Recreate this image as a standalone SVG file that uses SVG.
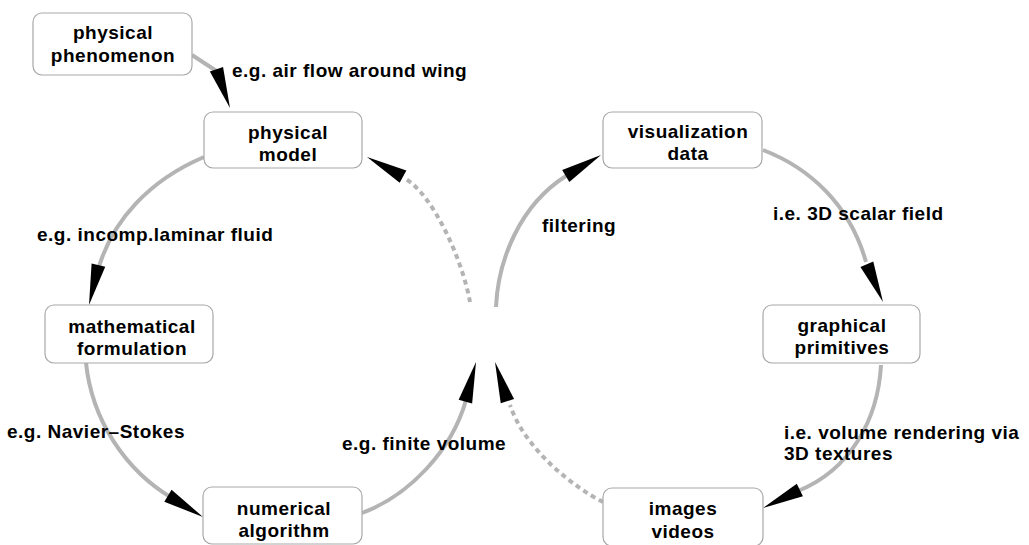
<svg xmlns="http://www.w3.org/2000/svg" xmlns:xlink="http://www.w3.org/1999/xlink" width="1029" height="545" viewBox="0 0 1029 545">
<defs>
<style>
.box{fill:#fff;stroke:#a8a8a8;stroke-width:1.2}
.nt{font-family:"Liberation Sans",Arial,sans-serif;font-weight:bold;font-size:19px;letter-spacing:0.5px;fill:#000;text-anchor:middle}
.lb{font-family:"Liberation Sans",Arial,sans-serif;font-weight:bold;font-size:19px;letter-spacing:0.5px;fill:#000}
.ln{fill:none;stroke:#b4b4b4;stroke-width:4}
.dash{fill:none;stroke:#b4b4b4;stroke-width:4;stroke-dasharray:5 4}
.ah{fill:#000}
</style>
<path id="ah" d="M0,0 L-41,-7 L-41,7 Z"/>
</defs>
<rect width="1029" height="545" fill="#fff"/>
<g id="connectors">
<path class="ln" d="M192,55 L218,72"/>
<path class="ln" d="M204,157 C150,180 112,220 98,270"/>
<path class="ln" d="M86,363 C92,420 125,470 172,498"/>
<path class="ln" d="M362,513 C410,495 452,450 466,400"/>
<path class="dash" d="M470,302 C462,258 432,193 404,178"/>
<path class="ln" d="M496,307 C498,260 520,205 566,176"/>
<path class="ln" d="M763,150 C810,168 850,205 866,262"/>
<path class="ln" d="M881,365 C878,420 850,470 798,491"/>
<path class="dash" d="M603,502 C575,488 525,450 510,405"/>
<use class="ah" xlink:href="#ah" href="#ah" transform="translate(230,108) rotate(70.7)"/>
<use class="ah" xlink:href="#ah" href="#ah" transform="translate(89,305) rotate(103.3)"/>
<use class="ah" xlink:href="#ah" href="#ah" transform="translate(203,517) rotate(31.2)"/>
<use class="ah" xlink:href="#ah" href="#ah" transform="translate(476,362) rotate(-75)"/>
<use class="ah" xlink:href="#ah" href="#ah" transform="translate(367,157) rotate(-151.5)"/>
<use class="ah" xlink:href="#ah" href="#ah" transform="translate(601,155) rotate(-30.7)"/>
<use class="ah" xlink:href="#ah" href="#ah" transform="translate(883,302) rotate(66.8)"/>
<use class="ah" xlink:href="#ah" href="#ah" transform="translate(763,508) rotate(154)"/>
<use class="ah" xlink:href="#ah" href="#ah" transform="translate(495,362) rotate(-107.6)"/>
</g>
<g id="labels">
<text class="lb" x="232" y="77">e.g. air flow around wing</text>
<text class="lb" x="37" y="241">e.g. incomp.laminar fluid</text>
<text class="lb" x="7" y="438">e.g. Navier–Stokes</text>
<text class="lb" x="342" y="450">e.g. finite volume</text>
<text class="lb" x="542" y="232">filtering</text>
<text class="lb" x="773" y="220">i.e. 3D scalar field</text>
<text class="lb" x="784" y="439">i.e. volume rendering via</text>
<text class="lb" x="784" y="460">3D textures</text>
</g>
<g id="node-phenomenon">
<rect class="box" x="33" y="13" width="159" height="62" rx="9"/>
<text class="nt" x="113" y="39">physical</text>
<text class="nt" x="113" y="62">phenomenon</text>
</g>
<g id="node-model">
<rect class="box" x="204" y="112" width="158" height="56" rx="9"/>
<text class="nt" x="288" y="139">physical</text>
<text class="nt" x="288" y="161">model</text>
</g>
<g id="node-math">
<rect class="box" x="45" y="305" width="168" height="58" rx="9"/>
<text class="nt" x="132" y="333">mathematical</text>
<text class="nt" x="132" y="355">formulation</text>
</g>
<g id="node-numerical">
<rect class="box" x="203" y="487" width="159" height="57" rx="9"/>
<text class="nt" x="284" y="515">numerical</text>
<text class="nt" x="284" y="537">algorithm</text>
</g>
<g id="node-visdata">
<rect class="box" x="603" y="112" width="159" height="56" rx="9"/>
<text class="nt" x="688" y="138">visualization</text>
<text class="nt" x="688" y="160">data</text>
</g>
<g id="node-graphical">
<rect class="box" x="763" y="305" width="157" height="58" rx="9"/>
<text class="nt" x="842" y="332">graphical</text>
<text class="nt" x="842" y="354">primitives</text>
</g>
<g id="node-images">
<rect class="box" x="603" y="488" width="160" height="58" rx="9"/>
<text class="nt" x="683" y="515">images</text>
<text class="nt" x="683" y="538">videos</text>
</g>
</svg>
